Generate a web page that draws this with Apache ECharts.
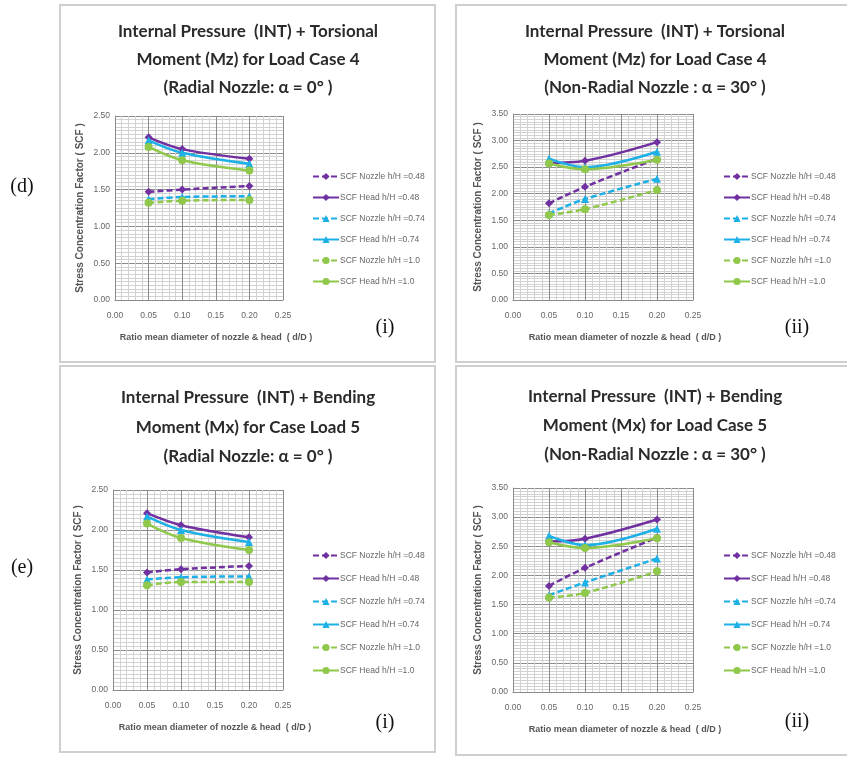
<!DOCTYPE html>
<html>
<head>
<meta charset="utf-8">
<script src="https://cdn.jsdelivr.net/npm/echarts@6/dist/echarts.min.js"></script>
<style>
  html, body { margin: 0; padding: 0; background: #fff; }
  #chart { width: 847px; height: 757px; }
</style>
</head>
<body>
<div id="chart"></div>
<script>
// x values: ratio mean diameter of nozzle & head (d/D)
const ratios = [0.05, 0.10, 0.20];

const seriesNames = [
  'SCF Nozzle h/H =0.48',
  'SCF Head h/H =0.48',
  'SCF Nozzle h/H =0.74',
  'SCF Head h/H =0.74',
  'SCF Nozzle h/H =1.0',
  'SCF Head h/H =1.0'
];

// (d)(i) torsional, radial nozzle
const dRadNozzle048 = [1.47, 1.50, 1.55];
const dRadHead048 = [2.21, 2.05, 1.92];
const dRadNozzle074 = [1.37, 1.40, 1.41];
const dRadHead074 = [2.17, 2.00, 1.85];
const dRadNozzle10 = [1.32, 1.35, 1.36];
const dRadHead10 = [2.08, 1.90, 1.76];

// (d)(ii) torsional, non-radial nozzle
const dNonNozzle048 = [1.82, 2.13, 2.66];
const dNonHead048 = [2.58, 2.62, 2.97];
const dNonNozzle074 = [1.63, 1.90, 2.28];
const dNonHead074 = [2.66, 2.50, 2.79];
const dNonNozzle10 = [1.60, 1.71, 2.07];
const dNonHead10 = [2.57, 2.46, 2.64];

// (e)(i) bending, radial nozzle
const eRadNozzle048 = [1.47, 1.51, 1.55];
const eRadHead048 = [2.21, 2.06, 1.91];
const eRadNozzle074 = [1.38, 1.41, 1.42];
const eRadHead074 = [2.17, 2.00, 1.85];
const eRadNozzle10 = [1.31, 1.35, 1.35];
const eRadHead10 = [2.08, 1.90, 1.75];

// (e)(ii) bending, non-radial nozzle
const eNonNozzle048 = [1.82, 2.13, 2.65];
const eNonHead048 = [2.58, 2.63, 2.96];
const eNonNozzle074 = [1.66, 1.88, 2.29];
const eNonHead074 = [2.68, 2.52, 2.80];
const eNonNozzle10 = [1.62, 1.70, 2.07];
const eNonHead10 = [2.57, 2.47, 2.64];

const panels = [
  { title: 'Internal Pressure  (INT) + Torsional\nMoment (Mz) for Load Case 4\n(Radial Nozzle: α = 0° )',
    data: [dRadNozzle048, dRadHead048, dRadNozzle074, dRadHead074, dRadNozzle10, dRadHead10],
    box: [60, 5, 375, 357], grid: [115, 116, 168, 184], yMax: 2.5,
    titleX: 248, titleY: 32, titleGap: 28, legend: [307, 167, 12], tag: ['(i)', 385, 328], xShift: 34 },
  { title: 'Internal Pressure  (INT) + Torsional\nMoment (Mz) for Load Case 4\n(Non-Radial Nozzle : α = 30° )',
    data: [dNonNozzle048, dNonHead048, dNonNozzle074, dNonHead074, dNonNozzle10, dNonHead10],
    box: [456, 5, 400, 357], grid: [513, 114, 180, 186], yMax: 3.5,
    titleX: 655, titleY: 32, titleGap: 28, legend: [718, 167, 12], tag: ['(ii)', 797, 328], xShift: 44 },
  { title: 'Internal Pressure  (INT) + Bending\nMoment (Mx) for Case Load 5\n(Radial Nozzle: α = 0° )',
    data: [eRadNozzle048, eRadHead048, eRadNozzle074, eRadHead074, eRadNozzle10, eRadHead10],
    box: [60, 366, 375, 386], grid: [113, 490, 170, 200], yMax: 2.5,
    titleX: 248, titleY: 398, titleGap: 29.5, legend: [307, 546, 14], tag: ['(i)', 385, 723], xShift: 34 },
  { title: 'Internal Pressure  (INT) + Bending\nMoment (Mx) for Load Case 5\n(Non-Radial Nozzle : α = 30° )',
    data: [eNonNozzle048, eNonHead048, eNonNozzle074, eNonHead074, eNonNozzle10, eNonHead10],
    box: [456, 366, 400, 389], grid: [513, 488, 180, 204], yMax: 3.5,
    titleX: 655, titleY: 397, titleGap: 29, legend: [718, 546, 14], tag: ['(ii)', 797, 722], xShift: 44 }
];

const colors = ['#7030a0', '#7030a0', '#1cb0e6', '#1cb0e6', '#8fc84a', '#8fc84a'];
const symbols = ['diamond', 'diamond', 'triangle', 'triangle', 'circle', 'circle'];
const labelFont = '"Liberation Sans", Arial, sans-serif';

const option = {
  animation: false,
  grid: [], xAxis: [], yAxis: [], series: [], legend: [], graphic: []
};

panels.forEach(function (p, i) {
  option.graphic.push({
    type: 'rect', silent: true,
    shape: { x: p.box[0], y: p.box[1], width: p.box[2], height: p.box[3] },
    style: { fill: '#fff', stroke: '#cfcfcf', lineWidth: 2 }, z: -10
  });
  p.title.split('\n').forEach(function (line, k) {
    option.graphic.push({
      type: 'text', silent: true,
      style: {
        text: line, x: p.titleX, y: p.titleY + k * p.titleGap,
        align: 'center', verticalAlign: 'middle',
        font: 'bold 17px Lato, "Open Sans", sans-serif', fill: '#2b2b2b'
      }
    });
  });
  option.graphic.push({
    type: 'text', silent: true,
    style: { text: p.tag[0], x: p.tag[1], y: p.tag[2], align: 'center', verticalAlign: 'middle',
      font: '20px "Liberation Serif", serif', fill: '#111' }
  });

  option.grid.push({ left: p.grid[0], top: p.grid[1], width: p.grid[2], height: p.grid[3] });
  option.xAxis.push({
    type: 'value', gridIndex: i, min: 0, max: 0.25, interval: 0.05,
    name: 'Ratio mean diameter of nozzle & head  ( d/D )',
    nameLocation: 'middle', nameGap: 33,
    nameTextStyle: { fontSize: 9, fontWeight: 'bold', color: '#555', fontFamily: labelFont, padding: [0, 0, 0, p.xShift] },
    axisLine: { show: true, lineStyle: { color: '#8a8a8a' } },
    axisTick: { show: false },
    axisLabel: { fontSize: 8.5, color: '#666', margin: 11, fontFamily: labelFont,
      formatter: function (v) { return v.toFixed(2); } },
    splitLine: { show: true, lineStyle: { color: '#8c8c8c', width: 1 } },
    minorTick: { show: false, splitNumber: 5 },
    minorSplitLine: { show: true, lineStyle: { color: '#d2d2d2', width: 1 } }
  });
  option.yAxis.push({
    type: 'value', gridIndex: i, min: 0, max: p.yMax, interval: 0.5,
    name: 'Stress Concentration Factor ( SCF )',
    nameLocation: 'middle', nameGap: 30,
    nameTextStyle: { fontSize: 10, fontWeight: 'bold', color: '#555', fontFamily: labelFont },
    axisLine: { show: true, lineStyle: { color: '#8a8a8a' } },
    axisTick: { show: false },
    axisLabel: { fontSize: 8.5, color: '#666', margin: 5, fontFamily: labelFont,
      formatter: function (v) { return v.toFixed(2); } },
    splitLine: { show: true, lineStyle: { color: '#8c8c8c', width: 1 } },
    minorTick: { show: false, splitNumber: 10 },
    minorSplitLine: { show: true, lineStyle: { color: '#d2d2d2', width: 1 } }
  });

  p.data.forEach(function (vals, s) {
    option.series.push({
      name: seriesNames[s], type: 'line', xAxisIndex: i, yAxisIndex: i,
      data: ratios.map(function (x, k) { return [x, vals[k]]; }),
      smooth: 0.35,
      symbol: symbols[s], symbolSize: 8,
      itemStyle: { color: colors[s] },
      lineStyle: { color: colors[s], width: 2.5, type: s % 2 === 0 ? [6, 3] : 'solid' },
      z: 3
    });
  });

  option.legend.push({
    orient: 'vertical', left: p.legend[0], top: p.legend[1], itemGap: p.legend[2],
    itemWidth: 26, itemHeight: 9, selectedMode: false,
    textStyle: { fontSize: 8.5, color: '#666', fontFamily: labelFont, padding: [0, 0, 0, -4] },
    data: seriesNames
  });
});

option.graphic.push({
  type: 'text', silent: true,
  style: { text: '(d)', x: 22, y: 187, align: 'center', verticalAlign: 'middle', font: '20px "Liberation Serif", serif', fill: '#111' }
});
option.graphic.push({
  type: 'text', silent: true,
  style: { text: '(e)', x: 22, y: 568, align: 'center', verticalAlign: 'middle', font: '20px "Liberation Serif", serif', fill: '#111' }
});

const chart = echarts.init(document.getElementById('chart'));
chart.setOption(option);
</script>
</body>
</html>
